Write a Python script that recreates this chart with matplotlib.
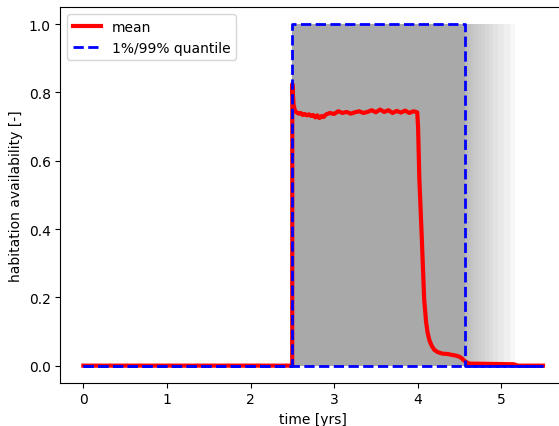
import numpy as np
import matplotlib
matplotlib.use("Agg")
import matplotlib.pyplot as plt

# mean availability over all runs
t_mean = [0.0, 2.499, 2.50, 2.515, 2.53, 2.55, 2.575, 2.60, 2.625, 2.65, 2.675, 2.70, 2.725,
          2.75, 2.775, 2.80, 2.825, 2.85, 2.875, 2.90, 2.95, 3.00, 3.05, 3.10, 3.15, 3.20,
          3.25, 3.30, 3.35, 3.40, 3.45, 3.50, 3.55, 3.60, 3.65, 3.70, 3.75, 3.80, 3.85,
          3.90, 3.95, 3.995,
          4.005, 4.02, 4.047, 4.078, 4.10, 4.118, 4.14, 4.166, 4.20, 4.245,
          4.30, 4.36, 4.42, 4.465, 4.50, 4.525, 4.55, 4.585, 4.62, 5.15, 5.20, 5.50]
mean_val = [0.0, 0.0, 0.825, 0.765, 0.748, 0.742, 0.738, 0.740, 0.734, 0.737, 0.733, 0.736, 0.731,
            0.734, 0.727, 0.733, 0.725, 0.731, 0.728, 0.735, 0.740, 0.737, 0.745, 0.740, 0.743, 0.738,
            0.742, 0.745, 0.740, 0.743, 0.748, 0.742, 0.750, 0.743, 0.748, 0.740, 0.746, 0.741, 0.747,
            0.740, 0.745, 0.742,
            0.70, 0.55, 0.39, 0.195, 0.13, 0.098, 0.075, 0.059, 0.046, 0.039,
            0.035, 0.034, 0.031, 0.029, 0.026, 0.022, 0.016, 0.010, 0.006, 0.004, 0.0, 0.0]

# quantiles
t_q = [0.0, 2.5, 2.5, 4.565, 4.565, 5.5]
q01 = [0.0, 0.0, 0.0, 0.0, 0.0, 0.0]
q99 = [0.0, 0.0, 1.0, 1.0, 0.0, 0.0]

# habitation window of the runs
t_start = 2.5
t_bulk_end = 4.565
tail_ends = [4.58, 4.59, 4.60, 4.62, 4.64, 4.66, 4.69, 4.72, 4.76, 4.80,
             4.85, 4.90, 4.96, 5.03, 5.10, 5.16]

fig = plt.figure(figsize=(5.59, 4.27), dpi=100)
ax = fig.add_axes([0.108, 0.1014, 0.9045, 0.8796])

# individual runs (saturate to darkgrey where they overlap)
ax.fill_between([t_start, t_bulk_end], 0, 1, color="darkgrey", lw=0)
for te in tail_ends:
    ax.fill_between([t_start, te], 0, 1, color="darkgrey", alpha=0.09, lw=0)

ax.plot(t_mean, mean_val, color="r", lw=3, label="mean")
ax.plot(t_q, q01, color="b", ls="--", lw=2, label="1%/99% quantile")
ax.plot(t_q, q99, color="b", ls="--", lw=2)

ax.set_xlim(-0.275, 5.775)
ax.set_ylim(-0.05, 1.05)
ax.set_xticks([0, 1, 2, 3, 4, 5])
ax.set_yticks([0.0, 0.2, 0.4, 0.6, 0.8, 1.0])
ax.set_xlabel("time [yrs]")
ax.set_ylabel("habitation availability [-]")
ax.legend(loc="upper left")

plt.savefig("out.png", dpi=100)
